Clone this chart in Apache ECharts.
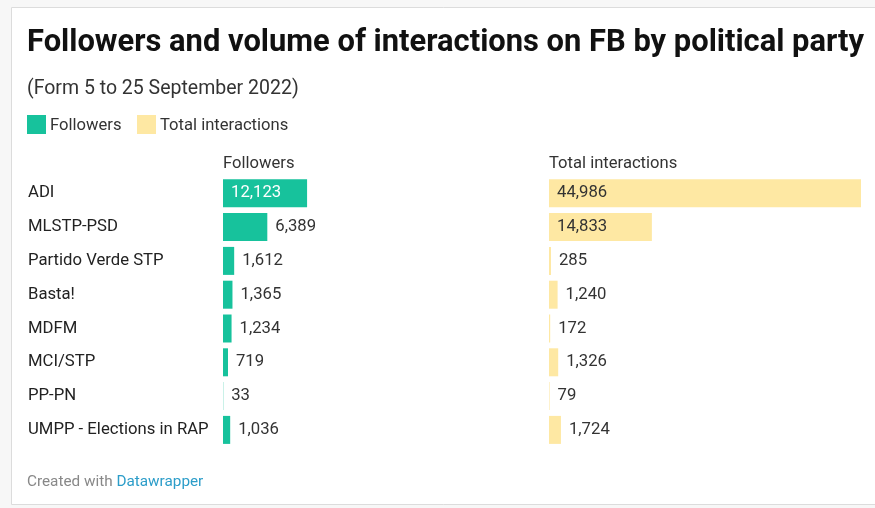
<!DOCTYPE html>
<html>
<head>
<meta charset="utf-8">
<style>
html,body{margin:0;padding:0;background:#f7f7f7;}
#chart{width:875px;height:508px;}
</style>
<script src="https://cdn.jsdelivr.net/npm/echarts@6/dist/echarts.min.js"></script>
</head>
<body>
<div id="chart"></div>
<script>
const parties = ["ADI","MLSTP-PSD","Partido Verde STP","Basta!","MDFM","MCI/STP","PP-PN","UMPP - Elections in RAP"];
const followers = [12123, 6389, 1612, 1365, 1234, 719, 33, 1036];
const interactions = [44986, 14833, 285, 1240, 172, 1326, 79, 1724];
const seriesNames = ["Followers", "Total interactions"];

const FONT = 'Roboto, "Noto Sans", sans-serif';
const GREEN = '#17c29c';
const YELLOW = '#fee8a3';
const colW = 312;
const maxVal = Math.max(...followers, ...interactions);

function fmt(v){ return v.toLocaleString('en-US'); }

function items(vals, insideColor){
  return vals.map(v => {
    const w = v / maxVal * colW;
    const inside = w > 70;
    return {
      value: v,
      label: inside
        ? {position: 'insideLeft', distance: 8, color: insideColor}
        : {position: 'right', distance: 8, color: '#333'}
    };
  });
}

const grids = [
  {left: 223, top: 176.4, width: colW, height: 270.4},
  {left: 549, top: 176.4, width: colW, height: 270.4}
];

const chart = echarts.init(document.getElementById('chart'), null, {renderer: 'canvas'});
chart.setOption({
  animation: false,
  backgroundColor: '#f7f7f7',
  textStyle: {fontFamily: FONT},
  graphic: [
    {type: 'rect', shape: {x: 11.5, y: 7.5, width: 900, height: 497}, style: {fill: '#fff', stroke: '#dcdcdc', lineWidth: 1}, z: -10},
    {type: 'text', left: 27, top: 28, style: {text: 'Followers and volume of interactions on FB by political party', font: 'bold 30.9px ' + FONT, fill: '#111'}},
    {type: 'text', left: 27, top: 79, style: {text: '(Form 5 to 25 September 2022)', font: '19.5px ' + FONT, fill: '#333'}},
    {type: 'rect', shape: {x: 27, y: 115, width: 19, height: 19}, style: {fill: GREEN}},
    {type: 'text', left: 50, top: 117, style: {text: seriesNames[0], font: '16.6px ' + FONT, fill: '#333'}},
    {type: 'rect', shape: {x: 137, y: 115, width: 19, height: 19}, style: {fill: YELLOW}},
    {type: 'text', left: 160, top: 117, style: {text: seriesNames[1], font: '16.6px ' + FONT, fill: '#333'}},
    {type: 'text', left: 223, top: 155, style: {text: seriesNames[0], font: '16.6px ' + FONT, fill: '#333'}},
    {type: 'text', left: 549, top: 155, style: {text: seriesNames[1], font: '16.6px ' + FONT, fill: '#333'}},
    {type: 'text', left: 27, top: 475, style: {
      text: '{a|Created with }{b|Datawrapper}',
      rich: {a: {font: '15.3px ' + FONT, fill: '#888', color: '#888'}, b: {font: '15.3px ' + FONT, fill: '#2c9dc9', color: '#2c9dc9'}}
    }}
  ],
  grid: grids,
  xAxis: [0, 1].map(i => ({
    gridIndex: i, type: 'value', min: 0, max: maxVal, show: false
  })),
  yAxis: [0, 1].map(i => ({
    gridIndex: i, type: 'category', data: parties, inverse: true,
    axisLine: {show: false}, axisTick: {show: false}, splitLine: {show: false},
    axisLabel: i === 0 ? {
      show: true, align: 'left', margin: 195, fontSize: 16.7, color: '#222', fontFamily: FONT,
      padding: [5, 0, 0, 0]
    } : {show: false}
  })),
  series: [
    {
      name: seriesNames[0], type: 'bar', xAxisIndex: 0, yAxisIndex: 0,
      barWidth: 28, itemStyle: {color: GREEN},
      data: items(followers, '#fff'),
      label: {show: true, fontSize: 16.7, fontFamily: FONT, padding: [5, 0, 0, 0], formatter: p => fmt(p.value)}
    },
    {
      name: seriesNames[1], type: 'bar', xAxisIndex: 1, yAxisIndex: 1,
      barWidth: 28, itemStyle: {color: YELLOW},
      data: items(interactions, '#333'),
      label: {show: true, fontSize: 16.7, fontFamily: FONT, padding: [5, 0, 0, 0], formatter: p => fmt(p.value)}
    }
  ]
});
</script>
</body>
</html>
